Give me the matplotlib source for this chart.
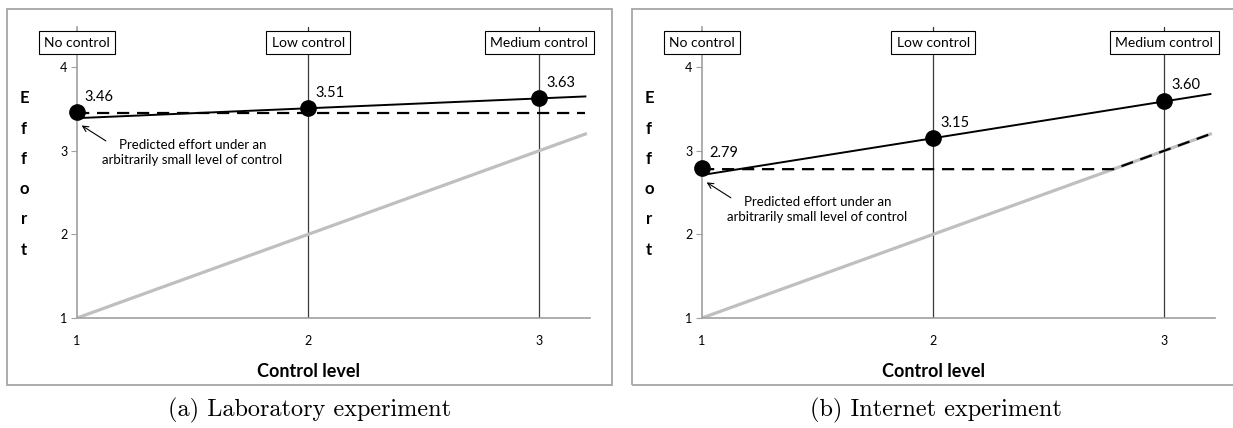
"""Effort vs control level: laboratory (a) and internet (b) experiments."""
import matplotlib
matplotlib.use("Agg")
import matplotlib.pyplot as plt
from matplotlib.patches import Rectangle

# ---- data ----
levels = [1, 2, 3]
level_names = ["No control", "Low control", "Medium control"]
lab_effort = [3.46, 3.51, 3.63]
web_effort = [2.79, 3.15, 3.60]
# fitted line (value at x=1, slope) and flat prediction under small control
lab_fit = (3.39, 0.118)
web_fit = (2.71, 0.44)
lab_floor = 3.45
web_floor = 2.78
captions = ["(a) Laboratory experiment", "(b) Internet experiment"]
x_end = 3.2

FONT = "Lato"
GREY = "#bfbfbf"
plt.rcParams.update({"font.family": FONT})

fig = plt.figure(figsize=(12.33, 4.28), dpi=100)
W, H = 1233, 428


def draw(left_px, effort, fit, floor, caption, box_px):
    ax = fig.add_axes([left_px / W, 1 - 318 / H, 513 / W, 291 / H])
    ax.set_xlim(1, 3.22)
    ax.set_ylim(1, 4.48)

    # panel frame
    x0, x1 = box_px
    fig.add_artist(Rectangle((x0 / W, 1 - 385 / H), (x1 - x0) / W, 376 / H,
                             transform=fig.transFigure, fill=False,
                             ec="#a6a6a6", lw=1.3))

    for s in ["top", "right"]:
        ax.spines[s].set_visible(False)
    for s in ["left", "bottom"]:
        ax.spines[s].set_color("#a0a0a0")
        ax.spines[s].set_linewidth(1.2)

    ax.set_yticks([1, 2, 3, 4])
    ax.set_xticks(levels)
    ax.tick_params(axis="y", length=4, color="#a0a0a0", labelsize=9, pad=3)
    ax.tick_params(axis="x", length=0, labelsize=9, pad=12)

    for lv in levels[1:]:
        ax.axvline(lv, color="#3a3a3a", lw=0.9, zorder=1)

    # 45 degree line, flat prediction, fitted line
    ax.plot([1, x_end], [1, x_end], color=GREY, lw=2.3, zorder=2)
    kink = max(floor, 1)
    dx = [1, kink, x_end] if kink < x_end else [1, x_end]
    dy = [floor, floor, x_end] if kink < x_end else [floor, floor]
    ax.plot(dx, dy, color="black", lw=1.6, dashes=(5.5, 3.5), zorder=3)
    b0, b1 = fit
    ax.plot([1, x_end], [b0, b0 + b1 * (x_end - 1)], color="black", lw=1.4, zorder=4)

    ax.plot(levels, effort, "o", color="black", ms=11, zorder=5, clip_on=False)
    for x, y in zip(levels, effort):
        ax.annotate(f"{y:.2f}", (x, y), xytext=(5, 11), textcoords="offset points",
                    ha="left", va="center", fontsize=10.5)

    for x, name in zip(levels, level_names):
        ax.text(x, 4.29, name, ha="center", va="center", fontsize=10, zorder=6,
                clip_on=False,
                bbox=dict(boxstyle="square,pad=0.4", fc="white", ec="black", lw=0.8))

    ax.annotate("", xy=(1.01, b0 - 0.07), xytext=(1.135, b0 - 0.29),
                arrowprops=dict(arrowstyle="->", color="black", lw=0.8))
    ax.text(1.5, b0 - 0.41, "Predicted effort under an\narbitrarily small level of control",
            ha="center", va="center", fontsize=9.5, linespacing=1.3)

    ax.text(2, 0.355, "Control level", ha="center", va="center",
            fontsize=13, fontweight="bold", clip_on=False)
    fig.text((left_px - 53) / W, 1 - 174 / H, "E\nf\nf\no\nr\nt", ha="center",
             va="center", fontsize=12, fontweight="bold", linespacing=2.1)
    fig.text((x0 + x1) / 2 / W, 1 - 410 / H, caption, ha="center", va="center",
             fontsize=17.5, family="cmr10")
    return ax


draw(77, lab_effort, lab_fit, lab_floor, captions[0], (7, 612))
draw(702, web_effort, web_fit, web_floor, captions[1], (632, 1240))

fig.savefig("out.png", dpi=100)
